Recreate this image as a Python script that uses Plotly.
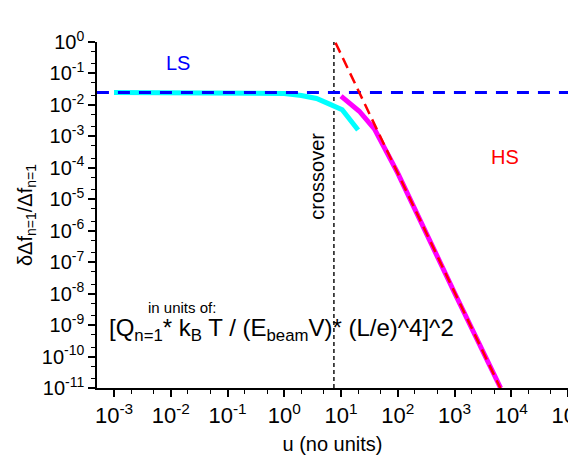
import plotly.graph_objects as go

# ---- data ----
ls_u = [0.0005, 1e5]
ls_y = [0.025, 0.025]

cyan_u = [0.001, 0.01, 0.1, 1, 2, 3.7, 6, 10.5, 20]
cyan_y = [0.025, 0.025, 0.0248, 0.023, 0.02, 0.016, 0.011, 0.007, 0.0016]

mag_u = [10, 21, 39, 100, 1000, 6500]
mag_y = [0.019, 0.0063, 0.0017, 6.8e-5, 1.07e-8, 1e-11]

hs_u = [8, 100, 1000, 6800]
hs_y = [0.95, 6.8e-5, 1.07e-8, 8e-12]

cross_u = [7.5, 7.5]
cross_y = [1e-11, 1]

x_tickvals = [1e-3, 1e-2, 1e-1, 1e0, 1e1, 1e2, 1e3, 1e4, 1e5]
x_exps = ["-3", "-2", "-1", "0", "1", "2", "3", "4", "5"]
y_tickvals = [10.0 ** (-k) for k in range(0, 12)]
y_exps = [str(-k) for k in range(0, 12)]

FONT = "Liberation Sans, Arial, sans-serif"

fig = go.Figure()
fig.add_trace(go.Scatter(x=cross_u, y=cross_y, mode="lines",
                         line=dict(color="black", width=1.4, dash="4px,3px")))
fig.add_trace(go.Scatter(x=cyan_u, y=cyan_y, mode="lines",
                         line=dict(color="#00FFFF", width=5)))
fig.add_trace(go.Scatter(x=ls_u, y=ls_y, mode="lines",
                         line=dict(color="#0000FF", width=3, dash="12px,9px")))
fig.add_trace(go.Scatter(x=mag_u, y=mag_y, mode="lines",
                         line=dict(color="#FF00FF", width=5)))
fig.add_trace(go.Scatter(x=hs_u, y=hs_y, mode="lines",
                         line=dict(color="#FF0000", width=2.5, dash="11px,6px")))

# page body has an 8px default margin; size the figure to fit the window
fig.update_layout(
    width=568, height=448,
    margin=dict(l=89, r=8, t=34, b=68),
    paper_bgcolor="white", plot_bgcolor="white",
    showlegend=False,
    font=dict(family=FONT, color="black", size=20),
    xaxis=dict(type="log", range=[-3.3, 5], showgrid=False, zeroline=False,
               automargin=False, ticklabeloverflow="allow",
               showline=True, linecolor="black", linewidth=1.5,
               ticks="outside", ticklen=7, tickwidth=1.5, tickcolor="black",
               tickvals=x_tickvals,
               ticktext=["10<sup>%s</sup>" % e for e in x_exps],
               tickfont=dict(size=22),
               minor=dict(ticks="outside", ticklen=4, tickwidth=1, tickcolor="black"),
               title=dict(text="u (no units)", font=dict(size=20), standoff=10)),
    yaxis=dict(type="log", range=[-11, 0], showgrid=False, zeroline=False,
               automargin=False, ticklabeloverflow="allow",
               showline=True, linecolor="black", linewidth=1.5,
               ticks="outside", ticklen=7, tickwidth=1.5, tickcolor="black",
               tickvals=y_tickvals,
               ticktext=["10<sup>%s</sup>" % e for e in y_exps],
               tickfont=dict(size=20),
               minor=dict(ticks="outside", ticklen=4, tickwidth=1, tickcolor="black"),
               title=dict(text="δΔf<sub>n=1</sub>/Δf<sub>n=1</sub>", font=dict(size=20), standoff=4)),
)

def ann(x, y, text, size, color="black", **kw):
    fig.add_annotation(xref="paper", yref="paper", x=x, y=y, text=text,
                       xanchor=kw.pop("xanchor", "center"), yanchor="middle",
                       showarrow=False, font=dict(color=color, size=size), **kw)

ann(0.171, 0.938, "LS", 20, "#0000FF")
ann(0.866, 0.669, "HS", 20, "#FF0000")
ann(0.468, 0.612, "crossover", 20, textangle=-90)
ann(0.18, 0.234, "in units of:", 15)
ann(0.022, 0.169, "[Q<sub>n=1</sub>* k<sub>B</sub> T / (E<sub>beam</sub>V)* (L/e)^4]^2", 24,
    xanchor="left")

fig.write_html("out.html")
